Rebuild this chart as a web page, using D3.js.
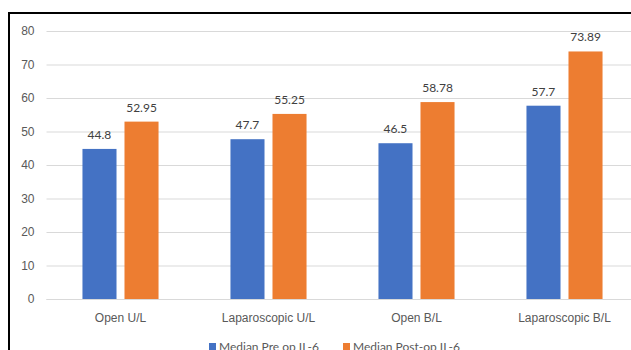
<!DOCTYPE html>
<html>
<head>
<meta charset="utf-8">
<script src="https://cdn.jsdelivr.net/npm/d3@7"></script>
<style>
  body { margin: 0; background: #fff; }
  svg { display: block; font-family: Lato, "Open Sans", sans-serif; }
</style>
</head>
<body>
<svg width="631" height="350"></svg>
<script>
// chart data
const categories = ['Open U/L', 'Laparoscopic U/L', 'Open B/L', 'Laparoscopic B/L'];
const seriesNames = ['Median Pre op IL-6', 'Median Post-op IL-6'];
const preOp = [44.8, 47.7, 46.5, 57.7];
const postOp = [52.95, 55.25, 58.78, 73.89];
const yTicks = [0, 10, 20, 30, 40, 50, 60, 70, 80];
const colors = ['#4472C4', '#ED7D31'];

const svg = d3.select('svg');

// frame of the chart box (only top and left show in the crop)
svg.append('rect')
  .attr('x', 9).attr('y', 13)
  .attr('width', 700).attr('height', 400)
  .attr('fill', 'none')
  .attr('stroke', '#000')
  .attr('stroke-width', 2);

// plot area
const plot = { left: 46.5, right: 638.5, top: 31, bottom: 299 };

const x0 = d3.scaleBand()
  .domain(categories)
  .range([plot.left, plot.right])
  .paddingInner(0.486)
  .paddingOuter(0.243);

const x1 = d3.scaleBand()
  .domain(seriesNames)
  .range([0, x0.bandwidth()])
  .paddingInner(0.19);

const y = d3.scaleLinear().domain([0, 80]).range([plot.bottom, plot.top]);

// y axis: gridlines + labels, no domain line
const yAxis = svg.append('g')
  .attr('transform', 'translate(' + plot.left + ',0)')
  .call(d3.axisLeft(y).tickValues(yTicks).tickSize(-(631 - plot.left)).tickPadding(12));
yAxis.select('.domain').remove();
yAxis.selectAll('line').attr('stroke', '#d9d9d9').attr('stroke-width', 1);
yAxis.selectAll('text')
  .attr('fill', '#595959')
  .style('font-size', '12px');

// bars
const rows = categories.map((c, i) => ({ cat: c, vals: [preOp[i], postOp[i]] }));

const groups = svg.append('g')
  .selectAll('g')
  .data(rows)
  .enter()
  .append('g')
  .attr('transform', d => 'translate(' + x0(d.cat) + ',0)');

groups.selectAll('rect')
  .data(d => d.vals.map((v, j) => ({ name: seriesNames[j], v: v, j: j })))
  .enter()
  .append('rect')
  .attr('x', d => x1(d.name))
  .attr('y', d => y(d.v))
  .attr('width', x1.bandwidth())
  .attr('height', d => y(0) - y(d.v))
  .attr('fill', d => colors[d.j]);

// value labels
groups.selectAll('text')
  .data(d => d.vals.map((v, j) => ({ name: seriesNames[j], v: v })))
  .enter()
  .append('text')
  .attr('x', d => x1(d.name) + x1.bandwidth() / 2)
  .attr('y', d => y(d.v) - 10)
  .attr('text-anchor', 'middle')
  .attr('fill', '#404040')
  .style('font-size', '12px')
  .text(d => d.v);

// x axis line + category labels
const xAxis = svg.append('g')
  .attr('transform', 'translate(0,' + plot.bottom + ')')
  .call(d3.axisBottom(x0).tickSize(0).tickPadding(14));
xAxis.select('.domain').attr('stroke', '#d9d9d9').attr('d', 'M' + plot.left + ',0.5H631');
xAxis.selectAll('text')
  .attr('fill', '#595959')
  .style('font-size', '12px');

// legend
const legend = svg.append('g')
  .selectAll('g')
  .data(seriesNames)
  .enter()
  .append('g')
  .attr('transform', (d, i) => 'translate(' + [209, 343][i] + ',0)');

legend.append('rect')
  .attr('x', 0).attr('y', 343)
  .attr('width', 7).attr('height', 7)
  .attr('fill', (d, i) => colors[i]);

legend.append('text')
  .attr('x', 10).attr('y', 351)
  .attr('fill', '#595959')
  .style('font-size', '12px')
  .text(d => d);
</script>
</body>
</html>
